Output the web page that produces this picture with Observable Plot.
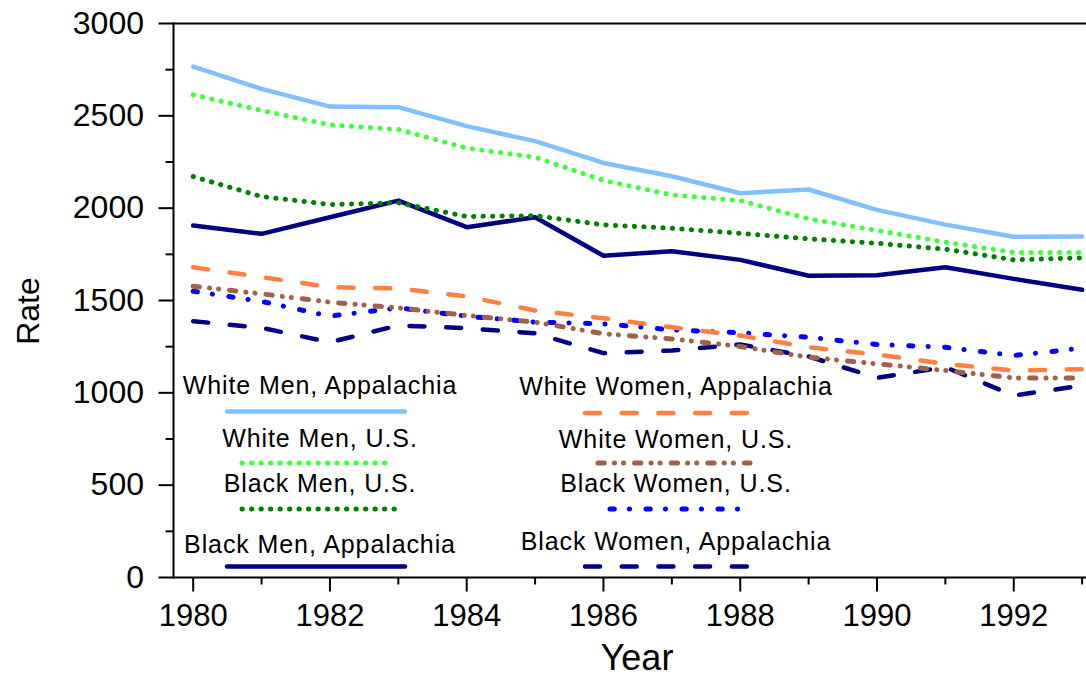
<!DOCTYPE html>
<html>
<head>
<meta charset="utf-8">
<script src="https://cdn.jsdelivr.net/npm/d3@7"></script>
<script src="https://cdn.jsdelivr.net/npm/@observablehq/plot@0.6"></script>
<style>
  html, body { margin: 0; padding: 0; background: #fff; }
  svg { display: block; }
</style>
</head>
<body>
<div id="chart"></div>
<script>
const years = [1980,1981,1982,1983,1984,1985,1986,1987,1988,1989,1990,1991,1992,1993];

const whiteMenApp   = [2767,2646,2550,2547,2444,2363,2245,2173,2081,2101,1991,1911,1845,1846];
const whiteMenUS    = [2614,2529,2451,2426,2325,2276,2150,2072,2041,1942,1879,1816,1760,1760];
const blackMenUS    = [2171,2063,2020,2029,1955,1959,1910,1891,1864,1834,1810,1778,1720,1731];
const blackMenApp   = [1906,1861,1951,2041,1897,1951,1742,1767,1720,1634,1637,1680,1617,1558];
const whiteWomenApp = [1680,1627,1572,1565,1522,1446,1404,1355,1310,1247,1207,1157,1121,1128];
const whiteWomenUS  = [1577,1536,1491,1460,1419,1383,1320,1292,1251,1193,1157,1121,1081,1081];
const blackWomenUS  = [1550,1495,1415,1460,1415,1383,1374,1341,1325,1301,1262,1247,1202,1242];
const blackWomenApp = [1388,1352,1274,1365,1350,1322,1215,1229,1262,1197,1081,1139,985,1040];

const yTicks = [0,500,1000,1500,2000,2500,3000];
const yMinor = [250,750,1250,1750,2250,2750];
const xTicks = [1980,1982,1984,1986,1988,1990,1992];
const xMinor = [1981,1983,1985,1987,1989,1991,1993];

const DOT = "0.3 9.2";
const DASH = "15 21.7";
const DASHDOTDOT = "6.3 10.1 0.1 9 0.1 11";
const DASHDOT = "4.3 15.1 0.1 16.5";

const series = [
  {name: "White Men, Appalachia",   values: whiteMenApp,   color: "#80c0ff", dash: null,       width: 4.5},
  {name: "White Men, U.S.",         values: whiteMenUS,    color: "#40ff40", dash: DOT,        width: 5},
  {name: "Black Men, U.S.",         values: blackMenUS,    color: "#008000", dash: DOT,        width: 5},
  {name: "Black Men, Appalachia",   values: blackMenApp,   color: "#000080", dash: null,       width: 4.5},
  {name: "White Women, Appalachia", values: whiteWomenApp, color: "#ff8040", dash: DASH,       width: 4.5},
  {name: "White Women, U.S.",       values: whiteWomenUS,  color: "#a0604a", dash: DASHDOTDOT, width: 5},
  {name: "Black Women, U.S.",       values: blackWomenUS,  color: "#0000ff", dash: DASHDOT,    width: 5},
  {name: "Black Women, Appalachia", values: blackWomenApp, color: "#000080", dash: DASH,       width: 4.5}
];

const FONT = "'Liberation Sans', Arial, Helvetica, sans-serif";

const drawOrder = [7, 6, 5, 4, 3, 2, 1, 0];
const lineMarks = drawOrder.map(i => {
  const s = series[i];
  return Plot.lineY(s.values, {
    x: years,
    stroke: s.color,
    strokeWidth: s.width,
    strokeDasharray: s.dash ?? undefined,
    strokeLinecap: "round",
    strokeLinejoin: "round"
  });
});

const chart = Plot.plot({
  width: 1086,
  height: 679,
  marginLeft: 173,
  marginRight: 0,
  marginTop: 23,
  marginBottom: 102,
  x: {domain: [1979.712, 1993.064]},
  y: {domain: [0, 3000]},
  style: {fontFamily: FONT, background: "#fff", color: "#000", overflow: "visible"},
  marks: [
    Plot.axisY({ticks: yMinor, tickSize: 7.5, text: null, label: null, strokeWidth: 2}),
    Plot.axisY({ticks: yTicks, tickSize: 14.5, tickPadding: 15, fontSize: 32, label: null, strokeWidth: 2, tickFormat: d => String(d)}),
    Plot.axisX({ticks: xMinor, tickSize: 7.5, text: null, label: null, strokeWidth: 2}),
    Plot.axisX({ticks: xTicks, tickSize: 14.5, tickPadding: 12, fontSize: 31, label: null, strokeWidth: 2, tickFormat: d => String(d)}),
    Plot.frame({anchor: "left", strokeWidth: 2}),
    Plot.frame({anchor: "bottom", strokeWidth: 2}),
    Plot.frame({anchor: "top", strokeWidth: 2}),
    ...lineMarks
  ]
});

document.getElementById("chart").appendChild(chart);

// Axis titles and in-plot legend (layout only)
const svg = d3.select(chart);

svg.append("text")
  .attr("transform", "translate(39,311) rotate(-90)")
  .attr("text-anchor", "middle")
  .attr("font-family", FONT)
  .attr("font-size", 32)
  .attr("fill", "#000")
  .text("Rate");

svg.append("text")
  .attr("x", 637).attr("y", 670)
  .attr("text-anchor", "middle")
  .attr("font-family", FONT)
  .attr("font-size", 36)
  .attr("fill", "#000")
  .text("Year");

const legendLayout = [
  {cx: 320, ty: 394, ly: 411.5, x1: 227, x2: 405},
  {cx: 320, ty: 447, ly: 463,   x1: 242, x2: 393},
  {cx: 320, ty: 492, ly: 509,   x1: 242, x2: 395},
  {cx: 320, ty: 553, ly: 566.5, x1: 227, x2: 405},
  {cx: 676, ty: 395, ly: 413,   x1: 585, x2: 753},
  {cx: 676, ty: 448, ly: 463,   x1: 598, x2: 750},
  {cx: 676, ty: 492, ly: 509,   x1: 610, x2: 745},
  {cx: 676, ty: 550, ly: 566.5, x1: 585, x2: 753}
];

const lg = svg.append("g").attr("class", "legend");
series.forEach((s, i) => {
  const L = legendLayout[i];
  lg.append("text")
    .attr("x", L.cx).attr("y", L.ty)
    .attr("text-anchor", "middle")
    .attr("font-family", FONT)
    .attr("font-size", 25)
    .attr("letter-spacing", "0.9px")
    .attr("fill", "#000")
    .text(s.name);
  lg.append("line")
    .attr("x1", L.x1).attr("x2", L.x2)
    .attr("y1", L.ly).attr("y2", L.ly)
    .attr("stroke", s.color)
    .attr("stroke-width", s.width)
    .attr("stroke-linecap", "round")
    .attr("stroke-dasharray", s.dash);
});
</script>
</body>
</html>
